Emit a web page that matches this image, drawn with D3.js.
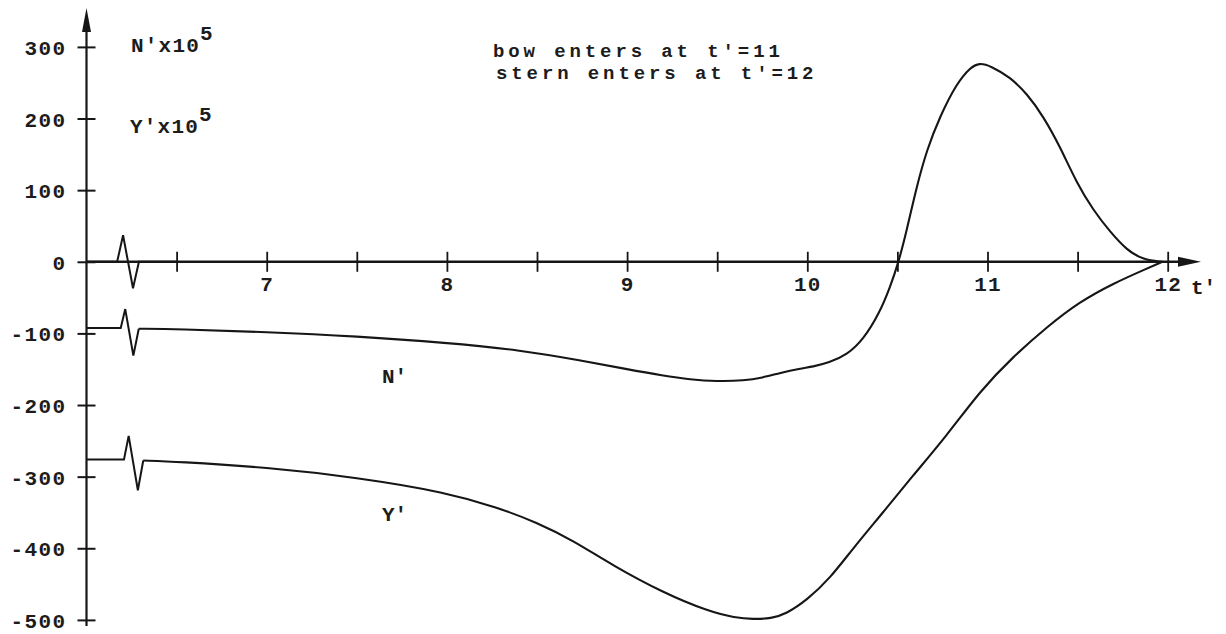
<!DOCTYPE html>
<html>
<head>
<meta charset="utf-8">
<script src="https://cdn.jsdelivr.net/npm/d3@7"></script>
<style>
  html, body { margin: 0; padding: 0; background: #fff; }
  svg { display: block; }
  text { font-family: "Courier New", "Liberation Mono", monospace; fill: #1c1c1c; font-weight: bold; }
</style>
</head>
<body>
<svg id="chart" width="1226" height="634"></svg>
<script>
// Time axis t' and tick marks
const xTicks = [6.5, 7, 7.5, 8, 8.5, 9, 9.5, 10, 10.5, 11, 11.5, 12];
const xTickLabels = ["", "7", "", "8", "", "9", "", "10", "", "11", "", "12"];
const yTicks = [300, 200, 100, 0, -100, -200, -300, -400, -500];

// Trace on the zero line (marker blip at the start)
const zeroT = [6.0, 6.17, 6.203, 6.258, 6.291, 6.5];
const zeroV = [0, 0, 37, -37, 0, 0];

// N' x 10^5 (yaw moment)
const nT = [6.0, 6.19, 6.215, 6.26, 6.29,
  6.5, 7.0, 7.5, 8.0, 8.4, 8.75, 9.0, 9.2, 9.35, 9.5, 9.65, 9.75,
  9.85, 9.96, 10.03, 10.12, 10.22, 10.31, 10.4, 10.46, 10.505, 10.552, 10.607,
  10.663, 10.736, 10.829, 10.903, 10.955, 11.02, 11.124, 11.218, 11.31, 11.402,
  11.495, 11.587, 11.68, 11.772, 11.865, 11.97];
const nV = [-92.5, -92.5, -66, -131, -93.5,
  -94, -98, -104, -113, -123, -138, -150, -159, -164.5, -167, -166, -162,
  -155, -149, -146.5, -141, -130, -109, -72, -35, -2, 44, 105,
  156, 203, 249, 271, 278, 273, 258, 235, 203, 161,
  110, 72, 42, 16.5, 2.5, 0];
const nBlipEnd = 5; // first points: sharp blip drawn with straight segments

// Y' x 10^5 (sway force)
const yT = [6.0, 6.208, 6.234, 6.285, 6.315,
  6.5, 7.0, 7.5, 8.0, 8.28, 8.5, 8.7, 8.92, 9.2, 9.45, 9.6, 9.7, 9.8,
  9.88, 10.0, 10.126, 10.254, 10.42, 10.581, 10.77, 10.96, 11.14, 11.33, 11.51,
  11.7, 11.88, 11.97];
const yV = [-276, -276, -243, -319, -277.5,
  -279, -287, -301, -322, -343, -364, -389, -424, -462, -488, -497, -499, -498,
  -492, -472, -442, -400, -350, -300, -244, -180, -133, -91, -56,
  -30, -10, 0];
const yBlipEnd = 5;

const svg = d3.select("#chart");
const x = d3.scaleLinear().domain([6, 12]).range([86.5, 1167.7]);
const y = d3.scaleLinear().domain([-500, 300]).range([619.9, 46.9]);

const ink = "#161616";
const fontStack = "\"Courier New\", \"Liberation Mono\", monospace";

// ---- axes ----
const x0 = x(6), y0 = y(0);

// vertical axis line with arrow
svg.append("line").attr("x1", x0).attr("x2", x0).attr("y1", 626).attr("y2", 26)
  .attr("stroke", ink).attr("stroke-width", 2.2);
svg.append("path")
  .attr("d", `M${x0},8 L${x0 - 4.5},32 L${x0 + 4.5},32 Z`)
  .attr("fill", ink);

// horizontal axis line with arrow
svg.append("line").attr("x1", x0).attr("x2", 1184).attr("y1", y0).attr("y2", y0)
  .attr("stroke", ink).attr("stroke-width", 2.4);
svg.append("path")
  .attr("d", `M1201,${y0} L1178,${y0 - 5} L1178,${y0 + 5} Z`)
  .attr("fill", ink);

// y ticks and labels
const yAxis = d3.axisLeft(y).tickValues(yTicks).tickSize(9).tickPadding(11)
  .tickFormat(d => String(d));
const gy = svg.append("g").attr("transform", `translate(${x0},0)`).call(yAxis);
gy.select(".domain").remove();
gy.selectAll(".tick line").attr("x1", 9).attr("stroke", ink).attr("stroke-width", 2);
gy.selectAll(".tick text")
  .attr("font-size", 21).attr("letter-spacing", 1.4)
  .attr("font-family", fontStack).attr("font-weight", "bold")
  .attr("fill", "#1c1c1c").attr("dy", "0.36em");

// x ticks and labels
const xAxis = d3.axisBottom(x).tickValues(xTicks).tickSize(10).tickPadding(4)
  .tickFormat((d, i) => xTickLabels[i]);
const gx = svg.append("g").attr("transform", `translate(0,${y0})`).call(xAxis);
gx.select(".domain").remove();
gx.selectAll(".tick line").attr("y1", -10).attr("stroke", ink).attr("stroke-width", 1.8);
gx.selectAll(".tick text")
  .attr("font-size", 21).attr("letter-spacing", 1.2)
  .attr("font-family", fontStack).attr("font-weight", "bold")
  .attr("fill", "#1c1c1c");

// t' axis name
svg.append("text").attr("x", 1191).attr("y", 294).attr("font-size", 21)
  .text("t'");

// ---- curves ----
const pts = (ts, vs) => ts.map((t, i) => [t, vs[i]]);
const straight = d3.line().x(d => x(d[0])).y(d => y(d[1])).curve(d3.curveLinear);
const smooth = d3.line().x(d => x(d[0])).y(d => y(d[1])).curve(d3.curveBasis);

function drawSeries(ts, vs, blipEnd) {
  const p = pts(ts, vs);
  svg.append("path").attr("d", straight(p.slice(0, blipEnd)))
    .attr("fill", "none").attr("stroke", ink).attr("stroke-width", 2)
    .attr("stroke-linejoin", "miter");
  svg.append("path").attr("d", smooth(p.slice(blipEnd - 1)))
    .attr("fill", "none").attr("stroke", ink).attr("stroke-width", 2.1);
}

svg.append("path").attr("d", straight(pts(zeroT, zeroV)))
  .attr("fill", "none").attr("stroke", ink).attr("stroke-width", 2);
drawSeries(nT, nV, nBlipEnd);
drawSeries(yT, yV, yBlipEnd);

// ---- labels ----
function scaled(txt, xp, yp) {
  const t = svg.append("text").attr("x", xp).attr("y", yp)
    .attr("font-size", 21).attr("letter-spacing", 1.2);
  t.append("tspan").text(txt);
  t.append("tspan").attr("dy", -12).text("5");
}
scaled("N'x10", 131, 52);
scaled("Y'x10", 130, 133);

svg.append("text").attr("x", 382).attr("y", 383).attr("font-size", 21).text("N'");
svg.append("text").attr("x", 382).attr("y", 521).attr("font-size", 21).text("Y'");

const notes = ["bow enters at t'=11", "stern enters at t'=12"];
svg.append("g").selectAll("text").data(notes).join("text")
  .attr("x", (d, i) => i === 0 ? 493 : 496)
  .attr("y", (d, i) => 57 + i * 22)
  .attr("font-size", 19).attr("letter-spacing", 3.9)
  .text(d => d);
</script>
</body>
</html>
